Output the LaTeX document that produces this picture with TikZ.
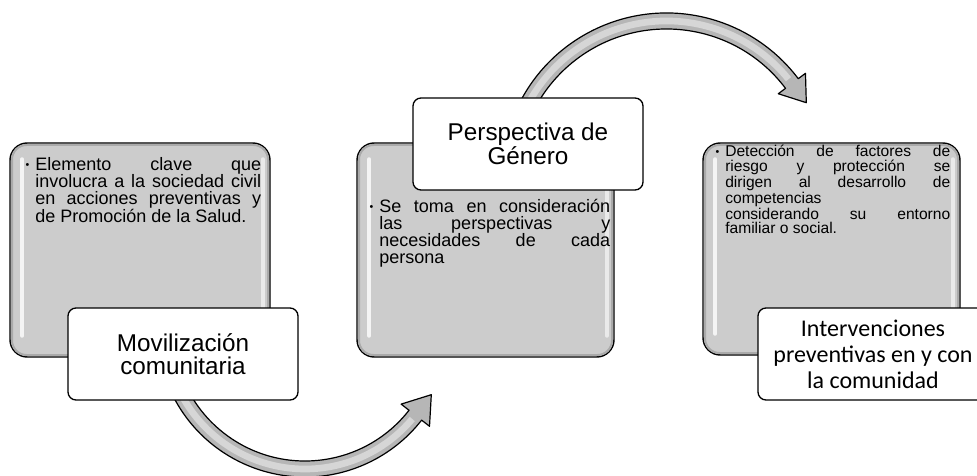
\documentclass[tikz,border=0pt]{standalone}
\usepackage{fontspec}
\setmainfont{Liberation Sans}
\newfontfamily\calibrifont{Carlito}
\definecolor{boxgray}{RGB}{204,204,204}
\definecolor{bevelgray}{RGB}{170,170,170}
\definecolor{arrowgray}{RGB}{182,182,182}
\definecolor{arrowlight}{RGB}{214,214,214}
\newcommand{\bul}{\leavevmode\llap{\raisebox{0.12em}{\fontsize{8pt}{8pt}\selectfont\textbullet}\hspace{4.5pt}}}
\tikzset{
  graybox/.style={draw=black, line width=1.1pt, fill=boxgray, rounded corners=13pt,
    minimum height=160.5pt, inner sep=0pt},
  bevel/.style={draw=bevelgray, line width=1.6pt, rounded corners=11pt},
  hilite/.style={white, line width=3pt, line cap=round, opacity=0.8},
  labelbox/.style={draw=black, line width=1pt, fill=white, rounded corners=6pt,
    minimum width=172.5pt, minimum height=69pt, align=center, inner sep=0pt,
    font=\fontsize{18.2pt}{17.6pt}\selectfont},
  bodytext/.style={anchor=base west, inner sep=0pt},
  curvedarrow/.style={draw=black, line width=0.9pt, fill=arrowgray, line join=round},
  arrowshine/.style={arrowlight, line width=5pt},
}
\begin{document}
\begin{tikzpicture}[x=0.75pt,y=0.75pt]
\useasboundingbox (0,0) rectangle (977,475);
% gray content boxes
\node[graybox, minimum width=195pt] (b1) at (140,225) {};
\node[graybox, minimum width=192.75pt] (b2) at (485.5,225) {};
\node[graybox, minimum width=192.75pt, minimum height=159pt] (b3) at (831.5,226) {};
% bevel and highlights
\foreach \b in {b1,b2,b3}{
  \draw[bevel] ([xshift=2pt,yshift=-2pt]\b.north west) rectangle ([xshift=-2pt,yshift=2pt]\b.south east);
  \draw[hilite] ([xshift=9.75pt,yshift=-12.75pt]\b.north west) -- ([xshift=9.75pt,yshift=16.5pt]\b.south west);
  \draw[hilite, opacity=0.6] ([xshift=-6pt,yshift=-12.75pt]\b.north east) -- ([xshift=-6pt,yshift=16.5pt]\b.south east);
}
% body texts
\node[bodytext] (t1) at (35,304) {\parbox[t]{169.5pt}{\fontsize{13.5pt}{12.6pt}\selectfont
  \bul Elemento clave que\linebreak involucra a la sociedad civil\linebreak en acciones preventivas y\linebreak de Promoción de la Salud.}};
\node[bodytext] (t2) at (379,262) {\parbox[t]{173.25pt}{\fontsize{13.5pt}{12.6pt}\selectfont
  \bul Se toma en consideración\linebreak las perspectivas y\linebreak necesidades de cada\linebreak persona}};
\node[bodytext] (t3) at (725,318) {\parbox[t]{168.75pt}{\fontsize{11.7pt}{10.9pt}\selectfont
  \bul Detección de factores de\linebreak riesgo y protección se\linebreak dirigen al desarrollo de\linebreak competencias\\considerando su entorno\linebreak familiar o social.}};
% curved arrows
\begin{scope}[shift={(305,146)}]
  \draw[curvedarrow] (205:148) arc[start angle=205, end angle=322, radius=148]
    -- (322:158) -- (126.3,-65.7) -- (322:122) -- (322:132)
    arc[start angle=322, end angle=205, radius=132] -- cycle;
  \draw[arrowshine] (207:140) arc[start angle=207, end angle=320, radius=140];
\end{scope}
\begin{scope}[shift={(666.5,297)}]
  \draw[curvedarrow] (160:165) arc[start angle=160, end angle=37, radius=165]
    -- (37:174) -- (139.8,75.3) -- (37:140) -- (37:149)
    arc[start angle=37, end angle=160, radius=149] -- cycle;
  \draw[arrowshine] (158:157) arc[start angle=158, end angle=39, radius=157];
\end{scope}
% labels
\node[labelbox] (l1) at (183,121) {Movilización\\comunitaria};
\node[labelbox] (l2) at (528,331) {Perspectiva de\\Género};
\node[labelbox, font=\calibrifont\fontsize{18pt}{19.5pt}\selectfont] (l3) at (873,121) {Intervenciones\\preventivas en y con\\la comunidad};
\end{tikzpicture}
\end{document}
